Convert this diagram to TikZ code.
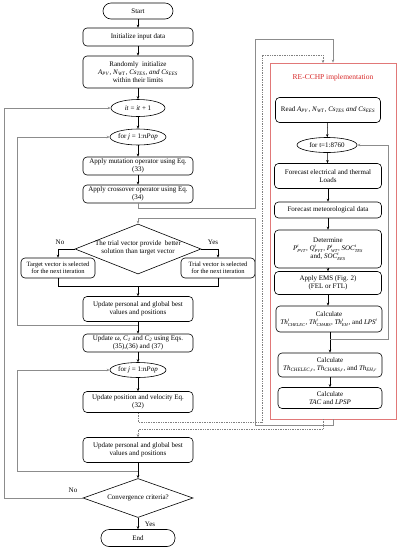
\documentclass[tikz,border=0pt]{standalone}
\usepackage{fontspec}
\setmainfont{Liberation Serif}
\usetikzlibrary{shapes.geometric,arrows.meta}
\definecolor{boxred}{RGB}{225,120,120}
\definecolor{titlered}{RGB}{215,40,40}
\newcommand{\vsub}[2]{\textit{#1}\textsubscript{\textit{#2}}}
\newcommand{\vsupsub}[3]{\mbox{\textit{#1}$^{\mbox{\fontsize{4.5}{5}\selectfont\textit{#2}}}_{\mbox{\fontsize{4.5}{5}\selectfont\textit{#3}}}$}}
\begin{document}
\begin{tikzpicture}[x=1pt,y=-1pt,
  every node/.style={font=\fontsize{7}{8}\selectfont, inner sep=1pt},
  proc/.style={draw, line width=0.6pt, rounded corners=4pt, align=center, minimum width=110pt},
  term/.style={draw, line width=0.6pt, rounded corners=8pt, align=center},
  ell/.style={draw, line width=0.6pt, ellipse, inner sep=0pt},
  dec/.style={draw, line width=0.6pt, diamond, inner sep=0pt},
  arr/.style={line width=0.5pt, -{Stealth[length=3pt,width=2.5pt]}},
  ln/.style={line width=0.5pt},
  gloop/.style={line width=0.9pt, draw=black!45},
  garr/.style={gloop, -{Stealth[length=3pt,width=2.5pt]}},
  dot/.style={line width=0.7pt, draw=black!50, densely dotted},
  darr/.style={dot, -{Stealth[length=3pt,width=2.5pt]}}
]
\useasboundingbox (0,0) rectangle (401,550);

% ---- left column ----
\node[term, minimum width=70pt, minimum height=16pt] (start) at (138,11) {Start};
\node[proc, minimum height=18pt] (init) at (138,37) {Initialize input data};
\node[proc, minimum height=32pt] (rand) at (138,72) {Randomly\ \ initialize\\ \vsub{A}{PV}, \vsub{N}{WT}, \vsub{Cs}{TES}, \textit{and} \vsub{Cs}{EES}\\ within their limits};
\node[ell, minimum width=54pt, minimum height=17pt] (it) at (138,108) {\textit{it} = \textit{it} + 1};
\node[ell, minimum width=52pt, minimum height=16pt] (forj1) at (138,137) {for \textit{j} = 1:\textit{nPop}};
\node[proc, minimum height=18pt] (mut) at (138,166) {Apply mutation operator using Eq.\\(33)};
\node[proc, minimum height=18pt] (cross) at (138,194) {Apply crossover operator using Eq.\\(34)};
\node[dec, minimum width=126pt, minimum height=50pt] (d1) at (138,249) {};
\node[align=center] (d1t) at (138,248) {The trial vector provide\ \ better\\solution than target vector};
\node[proc, minimum width=74pt, minimum height=20pt, font=\fontsize{6.5}{7.5}\selectfont] (target) at (58,268) {Target vector is selected\\for the next iteration};
\node[proc, minimum width=74pt, minimum height=20pt, font=\fontsize{6.5}{7.5}\selectfont] (trial) at (218,268) {Trial vector is selected\\for the next iteration};
\node (no1) at (60,242) {No};
\node (yes1) at (213,242) {Yes};
\node[proc, minimum height=25pt] (upd1) at (138,309) {Update personal and global best\\values and positions};
\node[proc, minimum height=18pt] (updw) at (138,343) {Update \textit{ω}, \vsub{C}{1} and \vsub{C}{2} using Eqs.\\(35),(36) and (37)};
\node[ell, minimum width=56pt, minimum height=15pt] (forj2) at (138,370) {for \textit{j} = 1:\textit{nPop}};
\node[proc, minimum height=21pt] (updpos) at (138,402) {Update position and velocity Eq.\\(32)};
\node[proc, minimum height=25pt] (upd2) at (138,450) {Update personal and global best\\values and positions};
\node[dec, minimum width=110pt, minimum height=39pt] (d2) at (138,498) {};
\node (d2t) at (138,498) {Convergence criteria?};
\node (no2) at (73,490) {No};
\node (yes2) at (150,524) {Yes};
\node[term, minimum width=74pt, minimum height=17pt] (end) at (138,538) {End};

% ---- right box ----
\node[draw=boxred, line width=0.7pt, minimum width=126pt, minimum height=356pt, inner sep=0pt] (re) at (333,241) {};
\node[text=titlered, font=\fontsize{7.5}{9}\selectfont] (title) at (333,78) {RE-CCHP implementation};
\node[proc, minimum width=105pt, minimum height=25pt] (read) at (328,110) {Read \vsub{A}{PV}, \vsub{N}{WT}, \vsub{Cs}{TES} \textit{and} \vsub{Cs}{EES}};
\node[ell, minimum width=60pt, minimum height=15pt] (fort) at (327,145) {for t=1:8760};
\node[proc, minimum width=107pt, minimum height=25pt] (fcel) at (328,176) {Forecast electrical and thermal\\Loads};
\node[proc, minimum width=107pt, minimum height=16pt] (fmet) at (328,210) {Forecast meteorological data};
\node[proc, minimum width=107pt, minimum height=38pt] (det) at (328,249) {Determine\\ \vsupsub{P}{t}{PVT}, \vsupsub{Q}{t}{PVT}, \vsupsub{P}{t}{WT}, \vsupsub{SOC}{t}{TES}\\ and, \vsupsub{SOC}{t}{EES}};
\node[proc, minimum width=107pt, minimum height=23pt] (ems) at (328,283) {Apply EMS (Fig. 2)\\(FEL or FTL)};
\node[proc, minimum width=106pt, minimum height=26pt] (calc1) at (329,319) {Calculate\\ \vsupsub{Th}{t}{CHELEC}, \vsupsub{Th}{t}{CHABS}, \vsupsub{Th}{t}{EH}, and \vsupsub{LPS}{t}{}};
\node[proc, minimum width=104pt, minimum height=24pt] (calc2) at (330,365) {Calculate\\ \vsub{Th}{CHELEC,r}, \vsub{Th}{CHABS,r}, and \vsub{Th}{EH,r}};
\node[proc, minimum width=104pt, minimum height=21pt] (calc3) at (330,398) {Calculate\\ \textit{TAC} and \textit{LPSP}};

% ---- coordinates ----
\coordinate (j1) at (138,286);
\coordinate (lp1) at (138,325);
\coordinate (lp2) at (138,471);
\coordinate (lp3) at (330,339);
\coordinate (dIn) at (323,63);
\coordinate (dOut) at (323,419);

% ---- main flow ----
\draw[arr] (start) -- (init);
\draw[arr] (init) -- (rand);
\draw[arr] (rand) -- (it);
\draw[arr] (it) -- (forj1);
\draw[arr] (forj1) -- (mut);
\draw[arr] (mut) -- (cross);
\draw[arr] (d1.west) -| (target.north);
\draw[arr] (d1.east) -| (trial.north);
\draw[ln] (target.south) |- (j1);
\draw[ln] (trial.south) |- (j1);
\draw[arr] (j1) -- (upd1);
\draw[arr] (upd1) -- (updw);
\draw[arr] (updw) -- (forj2);
\draw[arr] (forj2) -- (updpos);
\draw[arr] (upd2) -- (d2);
\draw[arr] (d2) -- (end);

% ---- loops left ----
\draw[garr] (lp1) -- (17,325) -- (17,137) -- (forj1.west);
\draw[garr] (lp2) -- (17,471) -- (17,370) -- (forj2.west);
\draw[garr] (d2.west) -- (4,498) -- (4,108) -- (it.west);

% ---- DE <-> RE-CCHP (solid) ----
\draw[garr] (cross.south) -- (138,208) -- (255,208) -- (255,39) -- (333,39) -- (re.north);
\draw[garr] (re.south) -- (333,425) -- (255,425) -- (255,218) -- (138,218) -- (d1.north);

% ---- PSO <-> RE-CCHP (dotted) ----
\draw[darr] (updpos.south) -- (138,422) -- (262,422) -- (262,55) -- (323,55) -- (dIn);
\draw[darr] (dOut) -- (323,429) -- (138,429) -- (upd2.north);

% ---- right flow ----
\draw[arr] (read) -- (fort);
\draw[arr] (fort) -- (fcel);
\draw[arr] (fcel) -- (fmet);
\draw[arr] (fmet) -- (det);
\draw[arr] (det) -- (ems);
\draw[arr] (ems) -- (ems |- calc1.north);
\draw[arr] (lp3 |- calc1.south) -- (calc2.north);
\draw[arr] (calc2) -- (calc3);
\draw[garr] (lp3) -- (388,339) -- (388,145) -- (fort.east);
\end{tikzpicture}
\end{document}
